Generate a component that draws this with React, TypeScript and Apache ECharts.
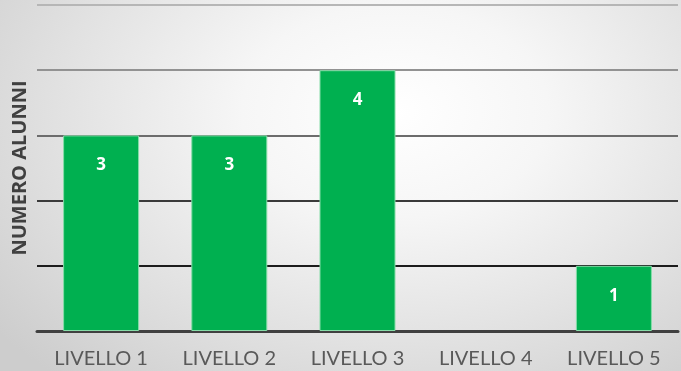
import React, { useEffect, useRef } from "react";
import * as echarts from "echarts";

const categories = ["LIVELLO 1", "LIVELLO 2", "LIVELLO 3", "LIVELLO 4", "LIVELLO 5"];
const values: (number | null)[] = [3, 3, 4, null, 1];
const yAxisName = "NUMERO ALUNNI";
const gridColors = ["#404040", "#1c1c1c", "#3a3a3a", "#6c6c6c", "#929292", "#b6b6b6"];

export default function App() {
  const ref = useRef<HTMLDivElement>(null);
  useEffect(() => {
    if (!ref.current) return;
    const chart = echarts.init(ref.current, null, { renderer: "svg" });
    chart.setOption({
      animation: false,
      backgroundColor: "transparent",
      grid: { left: 36, right: 3, top: 5, bottom: 40 },
      xAxis: {
        type: "category",
        data: categories,
        axisLine: { show: true, lineStyle: { color: "#404040", width: 3 } },
        axisTick: { show: false },
        axisLabel: {
          color: "#595959",
          fontSize: 20,
          lineHeight: 20,
          fontFamily: "Lato",
          margin: 16,
        },
      },
      yAxis: {
        type: "value",
        min: 0,
        max: 5,
        interval: 1,
        name: yAxisName,
        nameLocation: "middle",
        nameRotate: 90,
        nameGap: 9,
        nameTextStyle: {
          color: "#404040",
          fontSize: 20,
          fontWeight: "bold",
          fontFamily: "Open Sans",
        },
        axisLabel: { show: false },
        axisLine: { show: false },
        axisTick: { show: false },
        splitLine: { show: true, lineStyle: { color: gridColors, width: 2 } },
      },
      series: [
        {
          type: "bar",
          data: values,
          barWidth: 76,
          itemStyle: { color: "#00B050", borderColor: "#86dca8", borderWidth: 1 },
          label: {
            show: true,
            position: "insideTop",
            distance: 20,
            color: "#ffffff",
            fontSize: 17,
            fontWeight: "bold",
            fontFamily: "Open Sans",
          },
        },
      ],
    });
    return () => chart.dispose();
  }, []);
  return (
    <div
      style={{
        position: "fixed",
        left: 0,
        top: 0,
        width: 681,
        height: 371,
        background:
          "radial-gradient(ellipse 75% 95% at 58% 30%, #ffffff 0%, #f6f6f6 30%, #e2e2e2 65%, #cdcdcd 100%)",
      }}
    >
      <div ref={ref} style={{ width: 681, height: 371 }} />
    </div>
  );
}
